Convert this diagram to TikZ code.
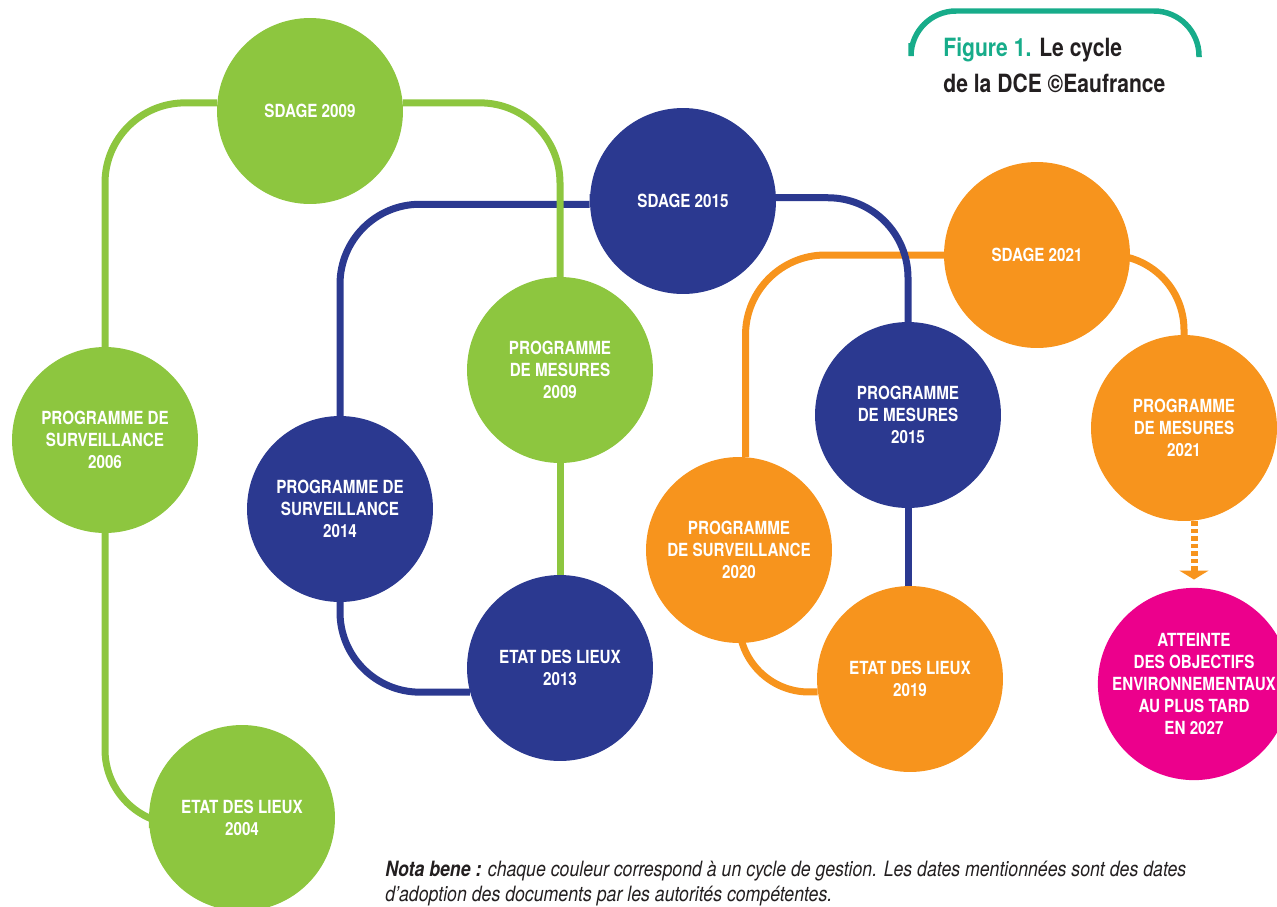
\documentclass[tikz,border=0pt]{standalone}
\usepackage{fontspec}
\setmainfont{TeX Gyre Heros}[FakeStretch=0.84]
\usetikzlibrary{arrows.meta,backgrounds}
\definecolor{cycGreen}{HTML}{8DC63F}
\definecolor{cycBlue}{HTML}{2B3990}
\definecolor{cycOrange}{HTML}{F7941D}
\definecolor{cycPink}{HTML}{EC008C}
\definecolor{cycTeal}{HTML}{17AC8A}
\definecolor{cycText}{HTML}{231F20}

\begin{document}
\begin{tikzpicture}[x=0.02cm, y=-0.02cm,
    cycle/.style={circle, fill=#1, minimum size=3.72cm, inner sep=0pt, align=center,
      text=white, font=\bfseries\fontsize{10.3}{12.5}\selectfont},
    link/.style={line width=0.14cm, draw=#1, rounded corners=1.6cm}]
        \useasboundingbox (0,0) rectangle (1277,906);

        % Title
        \draw[cycTeal, line width=0.11cm, rounded corners=0.9cm] (911,43) -- (911,11) -- (1199,11) -- (1199,57);
        \node[anchor=base west, align=left, inner sep=0pt, text=cycText, font=\bfseries\fontsize{14.3}{20.4}\selectfont] (title) at (943,92)
            {{\color{cycTeal}Figure 1.} Le cycle\\de la DCE ©Eaufrance};

        % Cycle 2004 - 2009
        \node[cycle=cycGreen] (sd09) at (310,111) {SDAGE 2009};
        \node[cycle=cycGreen] (ps06) at (105,440) {PROGRAMME DE\\SURVEILLANCE\\2006};
        \node[cycle=cycGreen] (pm09) at (560,370) {PROGRAMME\\DE MESURES\\2009};
        \node[cycle=cycGreen] (edl04) at (242,818) {ETAT DES LIEUX\\2004};

        % Cycle 2013 - 2015
        \node[cycle=cycBlue] (sd15) at (683,201) {SDAGE 2015};
        \node[cycle=cycBlue] (ps14) at (340,509) {PROGRAMME DE\\SURVEILLANCE\\2014};
        \node[cycle=cycBlue] (edl13) at (560,668) {ETAT DES LIEUX\\2013};
        \node[cycle=cycBlue] (pm15) at (908,415) {PROGRAMME\\DE MESURES\\2015};

        % Cycle 2019 - 2021
        \node[cycle=cycOrange] (sd21) at (1037,255) {SDAGE 2021};
        \node[cycle=cycOrange] (ps20) at (739,550) {PROGRAMME\\DE SURVEILLANCE\\2020};
        \node[cycle=cycOrange] (edl19) at (910,679) {ETAT DES LIEUX\\2019};
        \node[cycle=cycOrange] (pm21) at (1184,428) {PROGRAMME\\DE MESURES\\2021};

        % Objective
        \node[cycle=cycPink] (att) at (1194,684) {ATTEINTE\\DES OBJECTIFS\\ENVIRONNEMENTAUX\\AU PLUS TARD\\EN 2027};
        \draw[line width=0.14cm, cycOrange, dash pattern=on 0.09cm off 0.06cm,
            -{Triangle[width=0.58cm,length=0.18cm]}, shorten >=0.16cm] (pm21.south -| att.center) -- (att.north);

        % Connections
        \begin{scope}[on background layer]
            \draw[link=cycOrange] (sd21.center) -| (ps20.86);
            \draw[link=cycOrange, rounded corners=1.4cm] (ps20.center) |- (edl19.188);
            \draw[link=cycOrange, rounded corners=1.5cm] (sd21.center) -| (pm21.center);
            \draw[link=cycBlue] (sd15.182) -| (ps14.center);
            \draw[link=cycBlue] (ps14.center) |- (edl13.195);
            \draw[link=cycBlue] (sd15.178) -| (pm15.center);
            \draw[link=cycBlue] (pm15.center) -- (pm15.center |- edl19.center);
            \draw[link=cycGreen] (sd09.175) -| (ps06.center);
            \draw[link=cycGreen, rounded corners=1.5cm] (ps06.center) |- (edl04.184);
            \draw[link=cycGreen] (sd09.5) -| (pm09.center);
            \draw[link=cycGreen] (pm09.center) -- (edl13.center);
        \end{scope}

        % Note
        \node[anchor=base west, align=left, inner sep=0pt, text=cycText, font=\itshape\fontsize{12}{14.2}\selectfont] (note) at (385,901)
            {\textbf{Nota bene :} chaque couleur correspond à un cycle de gestion. Les dates mentionnées sont des dates\\d’adoption des documents par les autorités compétentes.};
    \end{tikzpicture}
\end{document}
